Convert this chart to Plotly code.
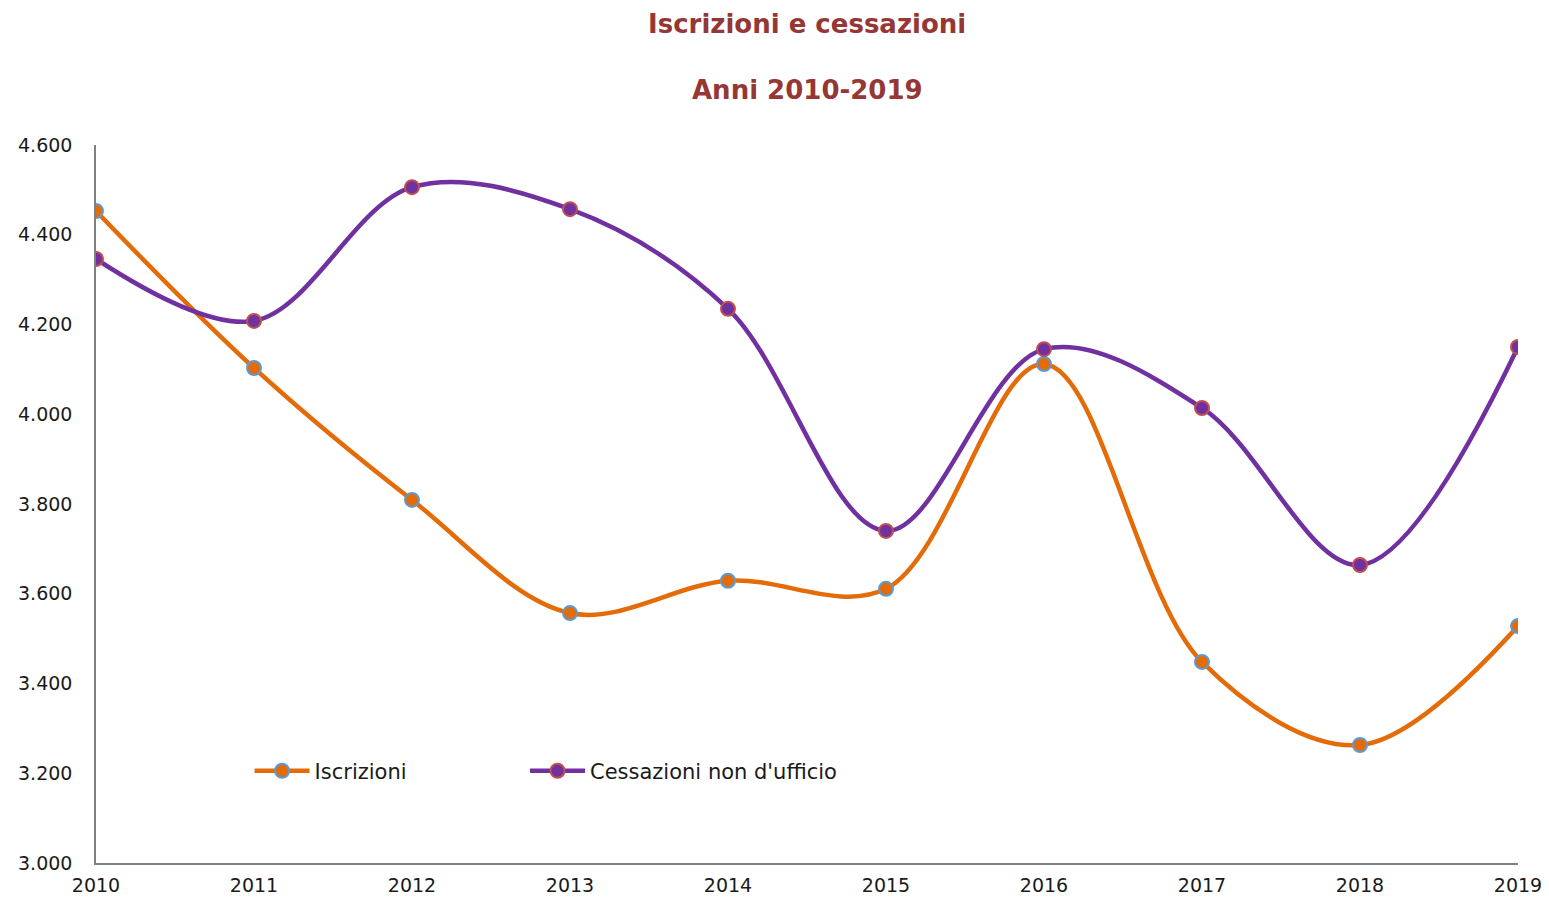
import plotly.graph_objects as go

anni = [2010, 2011, 2012, 2013, 2014, 2015, 2016, 2017, 2018, 2019]
iscrizioni = [4453, 4103, 3809, 3557, 3629, 3611, 4112, 3448, 3263, 3528]
cessazioni = [4346, 4208, 4506, 4457, 4235, 3740, 4145, 4014, 3664, 4150]
y_ticks = [3000, 3200, 3400, 3600, 3800, 4000, 4200, 4400, 4600]

FONT = "DejaVu Sans"

fig = go.Figure()
fig.add_trace(go.Scatter(
    x=anni, y=iscrizioni, name="Iscrizioni", mode="lines+markers", legend="legend",
    line=dict(color="#E36C09", width=4.5, shape="spline", smoothing=1.0),
    marker=dict(size=14, color="#E36C09", line=dict(color="#5B9BD5", width=2)),
))
fig.add_trace(go.Scatter(
    x=anni, y=cessazioni, name="Cessazioni non d'ufficio", mode="lines+markers", legend="legend2",
    line=dict(color="#7030A0", width=4.5, shape="spline", smoothing=1.0),
    marker=dict(size=14, color="#7030A0", line=dict(color="#C0504D", width=2)),
))

# page body has an 8px margin; compensate so the plot area lands at x 96..1518, y 145..863
W, H = 1541, 889
leg_common = dict(orientation="h", y=0.128, xanchor="left", yanchor="middle",
                  bgcolor="rgba(0,0,0,0)", font=dict(size=21), itemwidth=55)
fig.update_layout(
    width=W, height=H,
    margin=dict(l=88, r=W - 1510, t=137, b=H - 855),
    paper_bgcolor="white", plot_bgcolor="white",
    separators=",.",
    font=dict(family=FONT, size=19, color="#1a1a1a"),
    showlegend=True,
    legend=dict(x=0.108, **leg_common),
    legend2=dict(x=0.3017, **leg_common),
)
fig.add_annotation(text="<b>Iscrizioni e cessazioni</b>", xref="paper", yref="paper",
                   x=0.5, y=1 + (145 - 24) / 718, showarrow=False,
                   font=dict(size=26, color="#953735", family=FONT), yanchor="middle")
fig.add_annotation(text="<b>Anni 2010-2019</b>", xref="paper", yref="paper",
                   x=0.5, y=1 + (145 - 90) / 718, showarrow=False,
                   font=dict(size=26, color="#953735", family=FONT), yanchor="middle")

fig.update_xaxes(range=[2010, 2019], tickvals=anni, ticktext=[str(a) for a in anni],
                 showgrid=False, zeroline=False, showline=True, linecolor="#808080",
                 linewidth=1.5, ticks="", ticklabelstandoff=4, automargin=False)
fig.update_yaxes(range=[3000, 4600], tickvals=y_ticks, tickformat=",.0f",
                 showgrid=False, zeroline=False, showline=True, linecolor="#808080",
                 linewidth=1.5, ticks="", ticklabelstandoff=18, automargin=False)

fig.write_html("out.html")
